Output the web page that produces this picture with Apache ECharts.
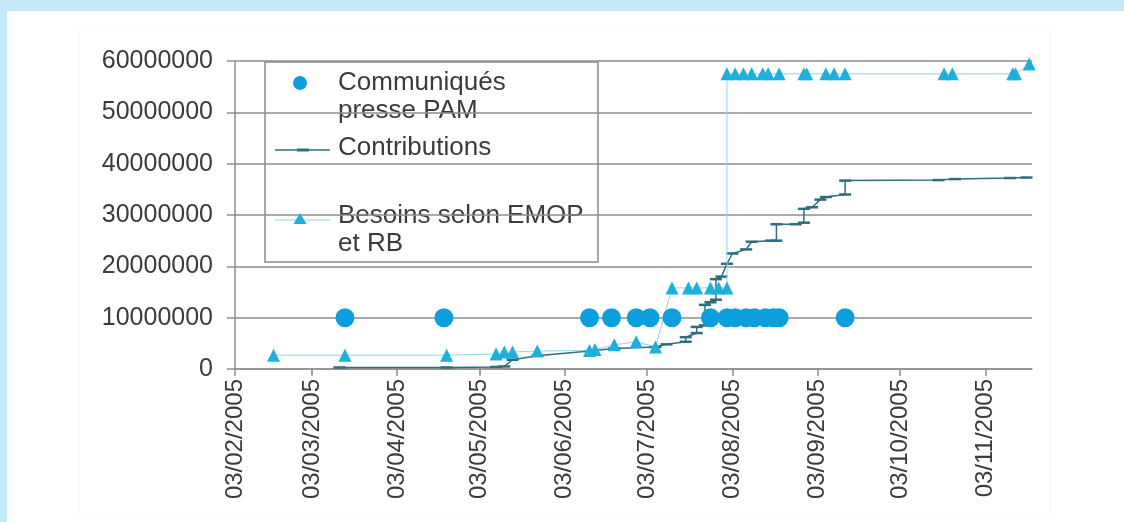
<!DOCTYPE html>
<html><head><meta charset="utf-8">
<script src="https://cdn.jsdelivr.net/npm/echarts@6/dist/echarts.min.js"></script>
<style>
html,body{margin:0;padding:0;background:#c6e9f8;width:1124px;height:522px;overflow:hidden;}
#panel{position:absolute;left:7px;top:11px;right:0;bottom:0;background:#ffffff;}
#c{position:absolute;left:0;top:0;width:1124px;height:522px;}
</style>
</head><body><div id="panel"></div><div id="c"></div>
<script>
// ---- data ----
const tickLabels = ['03/02/2005','03/03/2005','03/04/2005','03/05/2005','03/06/2005','03/07/2005','03/08/2005','03/09/2005','03/10/2005','03/11/2005'];
const yTicks = [0,10000000,20000000,30000000,40000000,50000000,60000000];

const communiquesDates = ['2005-03-15','2005-04-20','2005-06-12','2005-06-20','2005-06-29','2005-07-04','2005-07-12','2005-07-26','2005-08-01','2005-08-04','2005-08-08','2005-08-11','2005-08-15','2005-08-18','2005-08-20','2005-09-13'];
const communiquesValues = [10000000,10000000,10000000,10000000,10000000,10000000,10000000,10000000,10000000,10000000,10000000,10000000,10000000,10000000,10000000,10000000];

const contribDates = ['2005-03-13','2005-04-21','2005-05-09','2005-05-12','2005-05-15','2005-05-24','2005-06-12','2005-06-21','2005-07-06','2005-07-10','2005-07-17','2005-07-17','2005-07-21','2005-07-21','2005-07-24','2005-07-24','2005-07-26','2005-07-28','2005-07-28','2005-07-30','2005-08-01','2005-08-03','2005-08-08','2005-08-10','2005-08-17','2005-08-19','2005-08-19','2005-08-26','2005-08-29','2005-08-29','2005-09-01','2005-09-04','2005-09-06','2005-09-13','2005-09-13','2005-10-17','2005-10-23','2005-11-12','2005-11-18'];
const contribValues = [300000,300000,400000,500000,1800000,2600000,3500000,4000000,4300000,4800000,5300000,6200000,7000000,8200000,8500000,12500000,13000000,13500000,17500000,18000000,20500000,22500000,23300000,24800000,25000000,25000000,28200000,28200000,28500000,31200000,31500000,33000000,33500000,34000000,36700000,36800000,37000000,37200000,37300000];

const besoinsDates = ['2005-02-17','2005-03-15','2005-04-21','2005-05-09','2005-05-12','2005-05-15','2005-05-24','2005-06-12','2005-06-14','2005-06-21','2005-06-29','2005-07-06','2005-07-12','2005-07-18','2005-07-21','2005-07-26','2005-07-29','2005-08-01','2005-08-01','2005-08-04','2005-08-07','2005-08-10','2005-08-14','2005-08-16','2005-08-20','2005-08-29','2005-08-30','2005-09-06','2005-09-09','2005-09-13','2005-10-19','2005-10-22','2005-11-13','2005-11-14','2005-11-19'];
const besoinsValues = [2700000,2700000,2700000,2900000,3300000,3300000,3500000,3600000,3800000,4700000,5300000,4300000,15800000,15800000,15800000,15800000,15800000,15800000,57500000,57500000,57500000,57500000,57500000,57500000,57500000,57500000,57500000,57500000,57500000,57500000,57500000,57500000,57500000,57500000,59400000];

const seriesNames = ['Communiqués presse PAM','Contributions','Besoins selon EMOP et RB'];
const axisMin = '2005-02-03';
const axisMax = '2005-11-20';

// ---- helpers ----
function ts(s){ const p = s.split('-'); return Date.UTC(+p[0], +p[1]-1, +p[2]); }
function labelTs(l){ const p = l.split('/'); return Date.UTC(+p[2], +p[1]-1, +p[0]); }
const tickTs = tickLabels.map(labelTs);
function zip(d,v){ return d.map((x,i)=>[ts(x), v[i]]); }
function fmtDate(v){
  const d = new Date(v);
  const dd = String(d.getUTCDate()).padStart(2,'0');
  const mm = String(d.getUTCMonth()+1).padStart(2,'0');
  return dd + '/' + mm + '/' + d.getUTCFullYear();
}

const FONT = '"Liberation Sans", Arial, sans-serif';
const TXT = '#3b3b3b';
const GRID = '#8e8e8e';
const C_CIRCLE = '#0d9fdd';
const C_TRI = '#1db0dc';
const C_BLINE = '#8fd4ee';
const C_CONTRIB = '#2e6e7e';

const chart = echarts.init(document.getElementById('c'), null, {renderer:'canvas'});
chart.setOption({
  animation:false,
  backgroundColor:'transparent',
  grid:{left:235, right:92, top:61, bottom:153, containLabel:false},
  xAxis:{
    type:'value', min:ts(axisMin), max:ts(axisMax), scale:true,
    axisLine:{show:true, onZero:false, lineStyle:{color:GRID, width:1.5}},
    axisTick:{show:true, customValues:tickTs, length:7, lineStyle:{color:GRID, width:1.5}},
    axisLabel:{customValues:tickTs, rotate:90, margin:10, fontSize:24, fontFamily:FONT, color:TXT,
      formatter:function(v){ return fmtDate(v); }},
    splitLine:{show:false}
  },
  yAxis:{
    type:'value', min:yTicks[0], max:yTicks[yTicks.length-1], interval:yTicks[1]-yTicks[0],
    axisLine:{show:true, lineStyle:{color:GRID, width:1.5}},
    axisTick:{show:true, length:8, lineStyle:{color:GRID, width:1.5}},
    axisLabel:{fontSize:25, fontFamily:FONT, color:TXT, margin:22, formatter:function(v){ return String(v); }},
    splitLine:{show:true, lineStyle:{color:GRID, width:1.5}}
  },
  legend:{show:false},
  series:[
    {name:seriesNames[1], type:'line', data:zip(contribDates, contribValues), symbol:'rect', symbolSize:[12,2.5], showAllSymbol:true,
      itemStyle:{color:C_CONTRIB}, lineStyle:{color:C_CONTRIB, width:1.5}, z:3},
    {name:seriesNames[2], type:'line', data:zip(besoinsDates, besoinsValues), symbol:'triangle', symbolSize:13, showAllSymbol:true,
      itemStyle:{color:C_TRI}, lineStyle:{color:C_BLINE, width:1}, z:4},
    {name:seriesNames[0], type:'scatter', data:zip(communiquesDates, communiquesValues), symbol:'circle', symbolSize:19,
      itemStyle:{color:C_CIRCLE, opacity:1}, z:5}
  ],
  graphic:[
    {type:'rect', z:-1, silent:true, shape:{x:79, y:29, width:971, height:486}, style:{fill:'none', stroke:'#f7f7f7', lineWidth:1}},
    {type:'group', z:100, children:[
      {type:'rect', shape:{x:265, y:62, width:333, height:200}, style:{fill:'#ffffff', stroke:'#8a8a8a', lineWidth:1.5}},
      {type:'circle', shape:{cx:300, cy:83, r:7}, style:{fill:C_CIRCLE}},
      {type:'text', style:{x:338, y:69, text:'Communiqués\npresse PAM', fontSize:26, fontFamily:FONT, fill:TXT, lineHeight:28, verticalAlign:'top'}},
      {type:'line', shape:{x1:275, y1:150, x2:330, y2:150}, style:{stroke:C_CONTRIB, lineWidth:1.5}},
      {type:'rect', shape:{x:297, y:148.5, width:12, height:3}, style:{fill:C_CONTRIB}},
      {type:'text', style:{x:338, y:134, text:'Contributions', fontSize:26, fontFamily:FONT, fill:TXT, lineHeight:28, verticalAlign:'top'}},
      {type:'line', shape:{x1:275, y1:220, x2:330, y2:220}, style:{stroke:C_BLINE, lineWidth:1}},
      {type:'polygon', shape:{points:[[300,213],[306.5,224],[293.5,224]]}, style:{fill:C_TRI}},
      {type:'text', style:{x:338, y:202, text:'Besoins selon EMOP\net RB', fontSize:26, fontFamily:FONT, fill:TXT, lineHeight:28, verticalAlign:'top'}}
    ]}
  ]
});
</script></body></html>
